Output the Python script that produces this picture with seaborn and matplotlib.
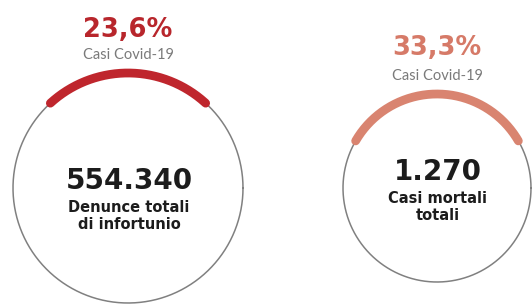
import numpy as np
import matplotlib
matplotlib.use('Agg')
import matplotlib.pyplot as plt
import seaborn as sns

# --- data ---
covid_pct = [23.6, 33.3]
totals = ['554.340', '1.270']
total_labels = ['Denunce totali\ndi infortunio', 'Casi mortali\ntotali']
pct_labels = ['23,6%', '33,3%']
sub_label = 'Casi Covid-19'
arc_colors = ['#bf262d', '#d98470']
pct_colors = ['#b8262c', '#d67a68']

sns.set_theme(style='white')
plt.rcParams['font.family'] = ['DejaVu Sans']

fig = plt.figure(figsize=(5.32, 3.04), dpi=100)
ax = fig.add_axes([0, 0, 1, 1])
ax.set_xlim(0, 532)
ax.set_ylim(304, 0)
ax.set_aspect('equal')
ax.axis('off')

# layout of the two gauges (pixel space)
centers = [(128, 188), (437, 188)]
radii = [115, 94]
pct_offset = [43, 46]
num_offset = [-7, -16]
lbl_offset = [28, 19]

for i in range(2):
    cx, cy = centers[i]
    r = radii[i]
    t = np.linspace(0, 2 * np.pi, 400)
    ax.plot(cx + r * np.cos(t), cy + r * np.sin(t), color='#808080', lw=1.1)

    # arc proportional to the share, centred at the top
    half = np.deg2rad(covid_pct[i] / 100 * 360 / 2)
    a = np.linspace(-half, half, 200)
    ax.plot(cx + r * np.sin(a), cy - r * np.cos(a), color=arc_colors[i],
            lw=6.3, solid_capstyle='round')

    top = cy - r
    ax.text(cx, top - pct_offset[i], pct_labels[i], color=pct_colors[i],
            ha='center', va='center', fontsize=18.5, fontweight='bold')
    ax.text(cx, top - 18, sub_label, color='#7a7a7a', ha='center',
            va='center', fontsize=10.5, family='Lato')

    ax.text(cx + 1, cy + num_offset[i], totals[i], color='#1c1c1c',
            ha='center', va='center', fontsize=20, fontweight='bold')
    ax.text(cx + 1, cy + lbl_offset[i], total_labels[i],
            color='#1c1c1c', ha='center', va='center', fontsize=10.5,
            fontweight='bold', linespacing=1.15)

fig.savefig('out.png', dpi=100, facecolor='white')
